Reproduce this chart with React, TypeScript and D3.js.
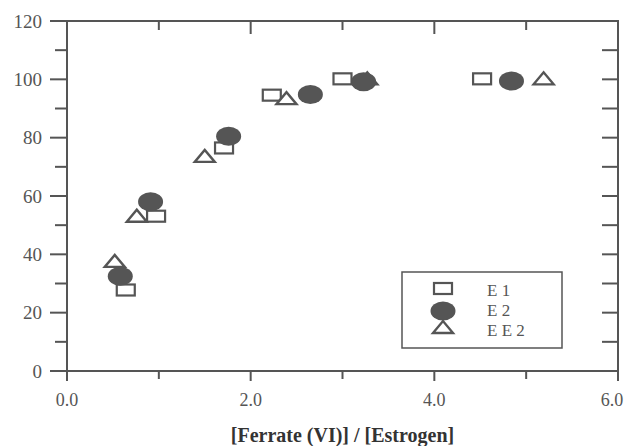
import * as d3 from "d3";

// series: [ratio, removal %]
const e1: [number, number][] = [
  [0.64, 27.6], [0.97, 52.9], [1.71, 76.3], [2.23, 94.4], [3.0, 100], [4.52, 100],
];
const e2: [number, number][] = [
  [0.58, 32.5], [0.91, 58.0], [1.76, 80.5], [2.65, 94.8], [3.23, 99.2], [4.84, 99.4],
];
const ee2: [number, number][] = [
  [0.52, 37.4], [0.76, 52.9], [1.5, 73.4], [2.39, 93.2], [3.27, 100], [5.19, 100],
];
const legendLabels = ["E 1", "E 2", "E E 2"];
const xTicks = [0, 1, 2, 3, 4, 5, 6];
const yTicks = [0, 10, 20, 30, 40, 50, 60, 70, 80, 90, 100, 110, 120];

const W = 627;
const H = 446;
const margin = { top: 21, right: 9, bottom: 75, left: 67 };
const ink = "#555";

function Square({ x, y }: { x: number; y: number }) {
  return <rect x={x - 9} y={y - 6} width={18} height={11} fill="white" stroke={ink} strokeWidth={2.2} />;
}
function Dot({ x, y }: { x: number; y: number }) {
  return <ellipse cx={x} cy={y} rx={12.5} ry={9.5} fill={ink} />;
}
function Tri({ x, y }: { x: number; y: number }) {
  return (
    <path
      d={`M${x - 10},${y + 5}L${x + 10},${y + 5}L${x},${y - 7}Z`}
      fill="white"
      stroke={ink}
      strokeWidth={2.4}
      strokeLinejoin="miter"
    />
  );
}

export default function App() {
  const x = d3.scaleLinear().domain([0, 6]).range([margin.left, W - margin.right]);
  const y = d3.scaleLinear().domain([0, 120]).range([H - margin.bottom, margin.top]);
  const [x0, x1] = x.range();
  const [y0, y1] = y.range();
  const fmt = d3.format(".1f");

  const lx = 402, ly = 272, lw = 160, lh = 76;

  return (
    <svg
      width={W}
      height={H}
      style={{ position: "absolute", left: 0, top: 0, background: "white" }}
      fontFamily="'Liberation Serif', 'Times New Roman', serif"
    >
      {/* frame */}
      <rect x={x0} y={y1} width={x1 - x0} height={y0 - y1} fill="none" stroke={ink} strokeWidth={2} />

      {/* y ticks left (out) and right (in) */}
      {yTicks.map((t) => {
        const major = t % 20 === 0;
        return (
          <g key={"y" + t}>
            <line x1={x0 - (major ? 17 : 12)} x2={x0} y1={y(t)} y2={y(t)} stroke={ink} strokeWidth={2} />
            <line x1={x1 - 16} x2={x1} y1={y(t)} y2={y(t)} stroke={ink} strokeWidth={2} />
            {major && (
              <text x={42} y={y(t)} dy="0.35em" textAnchor="end" fontSize={19} fill={ink}>
                {t}
              </text>
            )}
          </g>
        );
      })}

      {/* x ticks bottom (out) and top (in) */}
      {xTicks.map((t) => {
        const major = t % 2 === 0;
        return (
          <g key={"x" + t}>
            <line x1={x(t)} x2={x(t)} y1={y0} y2={y0 + (major ? 10 : 8)} stroke={ink} strokeWidth={2} />
            <line x1={x(t)} x2={x(t)} y1={y1} y2={y1 + (major ? 13 : 9)} stroke={ink} strokeWidth={2} />
            {major && (
              <text
                x={Math.min(x(t), W - 15)}
                y={400}
                dy="0.35em"
                textAnchor="middle"
                fontSize={18}
                fill={ink}
              >
                {fmt(t)}
              </text>
            )}
          </g>
        );
      })}

      {/* data */}
      {e1.map(([a, b], i) => <Square key={"s" + i} x={x(a)} y={y(b)} />)}
      {ee2.map(([a, b], i) => <Tri key={"t" + i} x={x(a)} y={y(b)} />)}
      {e2.map(([a, b], i) => <Dot key={"c" + i} x={x(a)} y={y(b)} />)}

      {/* legend */}
      <rect x={lx} y={ly} width={lw} height={lh} fill="white" stroke={ink} strokeWidth={1.5} />
      <Square x={443} y={289} />
      <Dot x={443} y={311} />
      <Tri x={443} y={328} />
      {legendLabels.map((l, i) => (
        <text key={l} x={487} y={290 + i * 20} dy="0.35em" fontSize={17} fill={ink}>
          {l}
        </text>
      ))}

      <text x={(x0 + x1) / 2} y={435} dy="0.35em" textAnchor="middle" fontSize={20} fontWeight="bold" fill="#333">
        [Ferrate (VI)] / [Estrogen]
      </text>
    </svg>
  );
}
